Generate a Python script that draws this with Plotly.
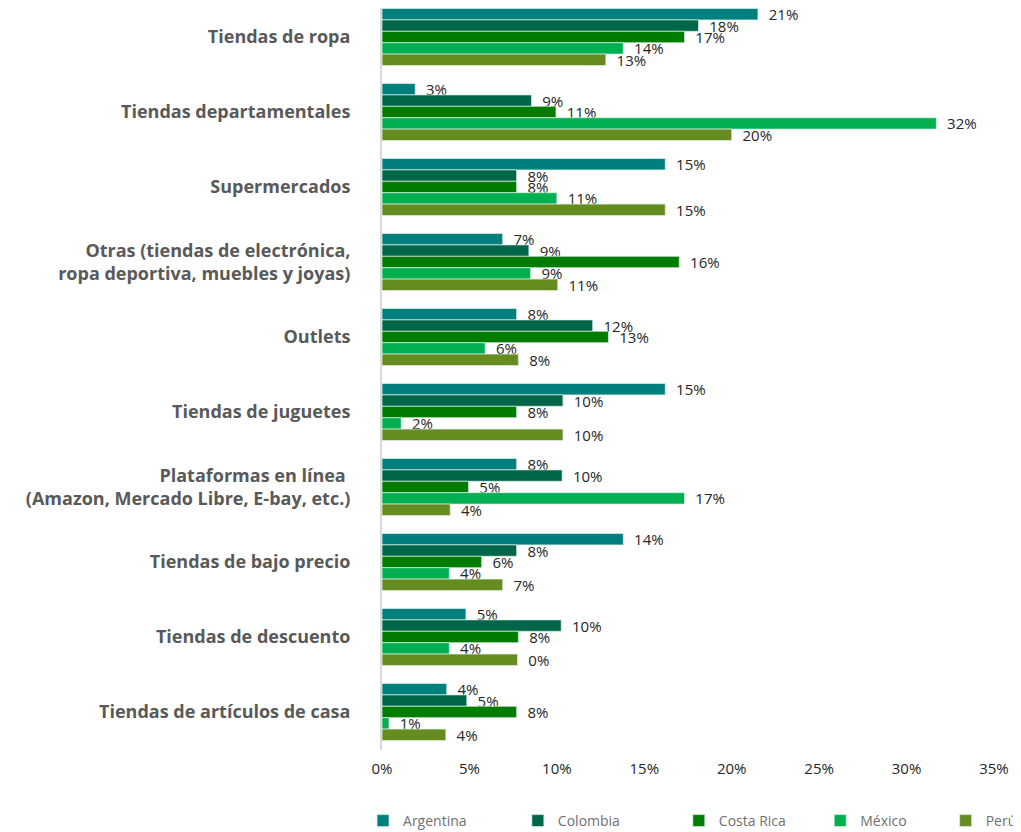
import plotly.graph_objects as go

categories = [
    "Tiendas de ropa",
    "Tiendas departamentales",
    "Supermercados",
    "Otras (tiendas de electrónica,<br>ropa deportiva, muebles y joyas)",
    "Outlets",
    "Tiendas de juguetes",
    "Plataformas en línea <br>(Amazon, Mercado Libre, E-bay, etc.)",
    "Tiendas de bajo precio",
    "Tiendas de descuento",
    "Tiendas de artículos de casa",
]

series_names = ["Argentina", "Colombia", "Costa Rica", "México", "Perú"]

argentina = [21.5, 1.9, 16.2, 6.9, 7.7, 16.2, 7.7, 13.8, 4.8, 3.7]
colombia = [18.1, 8.55, 7.7, 8.4, 12.05, 10.35, 10.3, 7.7, 10.25, 4.85]
costa_rica = [17.3, 9.95, 7.7, 17.0, 12.95, 7.7, 4.95, 5.7, 7.8, 7.7]
mexico = [13.8, 31.7, 10.0, 8.5, 5.9, 1.1, 17.3, 3.85, 3.85, 0.4]
peru = [12.8, 20.0, 16.2, 10.05, 7.8, 10.35, 3.9, 6.9, 7.75, 3.65]

argentina_lbl = ["21%", "3%", "15%", "7%", "8%", "15%", "8%", "14%", "5%", "4%"]
colombia_lbl = ["18%", "9%", "8%", "9%", "12%", "10%", "10%", "8%", "10%", "5%"]
costa_rica_lbl = ["17%", "11%", "8%", "16%", "13%", "8%", "5%", "6%", "8%", "8%"]
mexico_lbl = ["14%", "32%", "11%", "9%", "6%", "2%", "17%", "4%", "4%", "1%"]
peru_lbl = ["13%", "20%", "15%", "11%", "8%", "10%", "4%", "7%", "0%", "4%"]

colors = ["#007F7F", "#00664A", "#007D00", "#00B050", "#668B1F"]

values = [argentina, colombia, costa_rica, mexico, peru]
labels = [argentina_lbl, colombia_lbl, costa_rica_lbl, mexico_lbl, peru_lbl]

x_ticks = [0, 5, 10, 15, 20, 25, 30, 35]

# legend positions (paper x) for each series entry
legend_x = [-0.031, 0.222, 0.485, 0.716, 0.921]

fig = go.Figure()
for i, (name, vals, lbls, col) in enumerate(zip(series_names, values, labels, colors)):
    fig.add_trace(go.Bar(
        name=name,
        y=categories,
        x=vals,
        orientation="h",
        text=lbls,
        texttemplate="\u00a0\u00a0%{text}",
        textposition="outside",
        constraintext="none",
        cliponaxis=False,
        textfont=dict(family="Open Sans", size=15, color="#262626"),
        marker=dict(color=col, line=dict(color="rgba(220,240,230,0.9)", width=0.8)),
        hoverinfo="skip",
        legend="legend" if i == 0 else f"legend{i + 1}",
    ))

legend_common = dict(
    orientation="h",
    y=-0.0957,
    yanchor="middle",
    xanchor="left",
    font=dict(family="Open Sans", size=14, color="#707070"),
    bgcolor="rgba(0,0,0,0)",
)
legend_layout = {}
for i, lx in enumerate(legend_x):
    key = "legend" if i == 0 else f"legend{i + 1}"
    legend_layout[key] = dict(legend_common, x=lx)

fig.update_layout(
    width=1021,
    height=850,
    barmode="group",
    bargap=0.24,
    bargroupgap=0,
    plot_bgcolor="white",
    paper_bgcolor="white",
    margin=dict(l=374, r=35, t=0, b=108, autoexpand=False),
    font=dict(family="Open Sans", color="#262626"),
    showlegend=True,
    **legend_layout,
)

fig.update_xaxes(
    range=[0, 35],
    tickvals=x_ticks,
    ticktext=[f"{v}%" for v in x_ticks],
    showgrid=False,
    zeroline=False,
    showline=False,
    ticks="",
    automargin=False,
    ticklabelstandoff=8,
    tickfont=dict(family="Open Sans", size=15, color="#262626"),
)

fig.update_yaxes(
    range=[9.507, -0.387],
    showgrid=False,
    zeroline=False,
    showline=True,
    linecolor="#D9D9D9",
    linewidth=2,
    ticks="",
    automargin=False,
    ticklabelstandoff=26,
    tickfont=dict(family="Open Sans", size=18, color="#595959", weight="bold"),
)

fig.write_html("out.html")
